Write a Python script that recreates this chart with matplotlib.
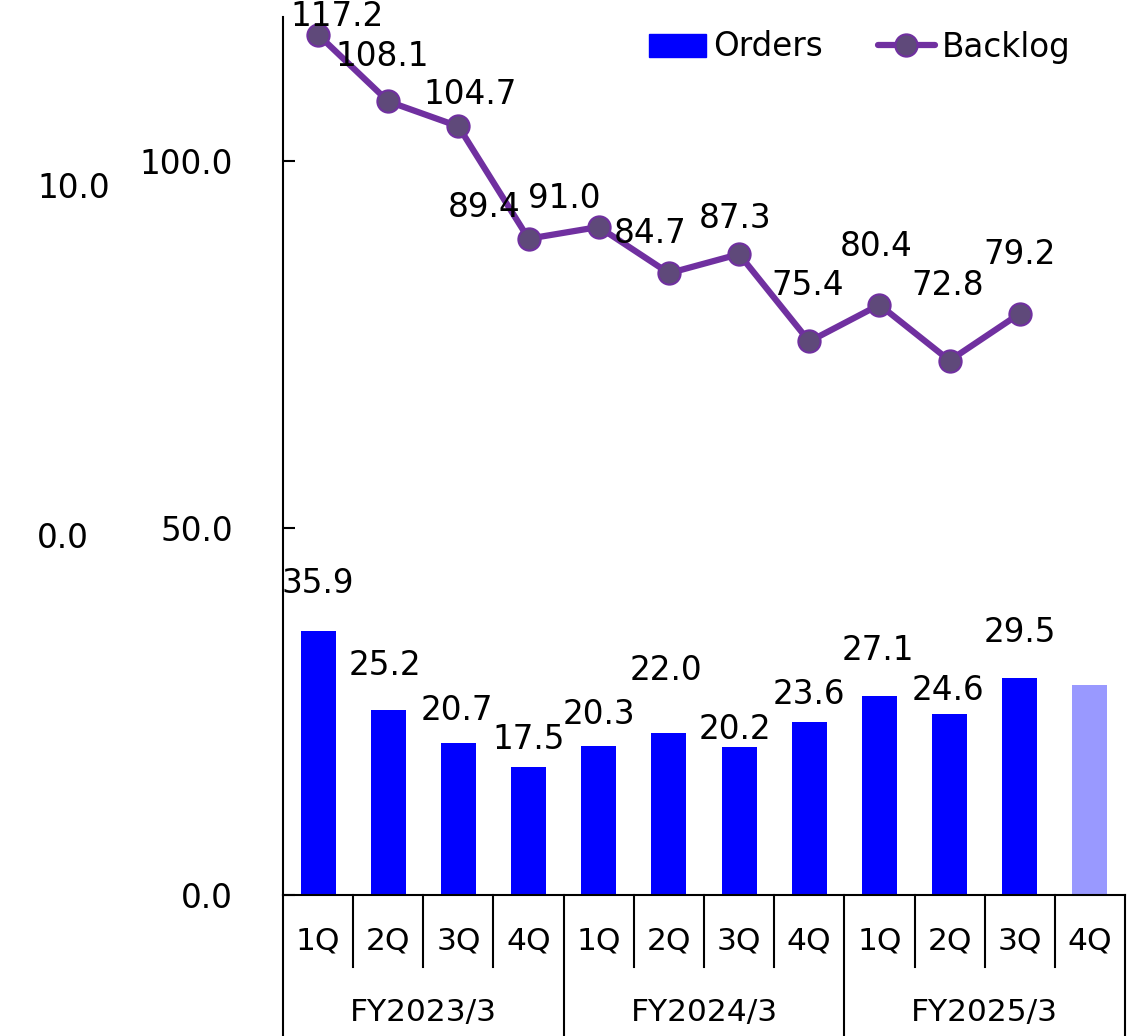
import numpy as np
import matplotlib
matplotlib.use('Agg')
import matplotlib.pyplot as plt
from matplotlib.transforms import blended_transform_factory
from matplotlib.lines import Line2D
from matplotlib.patches import Patch

# Data
quarters = ['1Q', '2Q', '3Q', '4Q'] * 3
fiscal_years = ['FY2023/3', 'FY2024/3', 'FY2025/3']
orders = [35.9, 25.2, 20.7, 17.5, 20.3, 22.0, 20.2, 23.6, 27.1, 24.6, 29.5, 28.6]
order_labels = ['35.9', '25.2', '20.7', '17.5', '20.3', '22.0', '20.2', '23.6', '27.1', '24.6', '29.5', '']
backlog = [117.2, 108.1, 104.7, 89.4, 91.0, 84.7, 87.3, 75.4, 80.4, 72.8, 79.2]

# label offsets in pixels (dx, dy)
order_offsets = [(0, 48), (-3, 45), (-2, 33), (0, 27), (0, 31), (-3, 63),
                 (-4, 17), (0, 27), (-2, 46), (-2, 24), (0, 46)]
backlog_offsets = [(19, 18), (-6, 45), (12, 32), (-44, 31), (-34, 28), (-19, 40),
                   (-4, 36), (-2, 56), (-3, 58), (-2, 75), (0, 59)]

W, H = 1135, 1036
fig = plt.figure(figsize=(W / 100, H / 100), dpi=100)
ax = fig.add_axes([283 / W, (H - 895) / H, (1125 - 283) / W, (895 - 17) / H])

x = np.arange(len(orders))
colors = ['#0000FF'] * (len(orders) - 1) + ['#9999FF']
ax.bar(x, orders, width=0.5, color=colors)
ax.plot(x[:len(backlog)], backlog, color='#7030A0', lw=4.5, marker='o', ms=16,
        mfc='#5F497A', mec='#7030A0', mew=1.5, solid_capstyle='round')

fs = 23.5
for i, (v, lab) in enumerate(zip(orders, order_labels)):
    if lab:
        ax.annotate(lab, (i, v), xytext=order_offsets[i], textcoords='offset pixels',
                    ha='center', va='center', fontsize=fs)
for i, v in enumerate(backlog):
    ax.annotate(f'{v:.1f}', (i, v), xytext=backlog_offsets[i], textcoords='offset pixels',
                ha='center', va='center', fontsize=fs)

ax.set_xlim(-0.5, len(orders) - 0.5)
ax.set_ylim(0, 119.6)
ax.set_yticks([0, 50, 100])
ax.set_yticklabels([f'{t:.1f}' for t in [0, 50, 100]], fontsize=fs)
ax.tick_params(axis='y', direction='in', length=8.5, width=1.5, pad=36)
ax.set_xticks([])
for s in ['top', 'right']:
    ax.spines[s].set_visible(False)
for s in ['left', 'bottom']:
    ax.spines[s].set_linewidth(1.5)

# stray secondary-axis labels on the far left
fig.text(110 / W, 1 - 188 / H, '10.0', ha='right', va='center', fontsize=fs)
fig.text(89 / W, 1 - 538 / H, '0.0', ha='right', va='center', fontsize=fs)

# two-level category axis drawn as a table
tr = blended_transform_factory(ax.transData, fig.transFigure)
y_axis = (H - 895) / H
y_mid = (H - 967) / H
for b in np.arange(len(orders) + 1) - 0.5:
    edge = (b + 0.5) % 4 == 0
    ax.plot([b, b], [y_axis, 0 if edge else y_mid], color='black', lw=1.5,
            transform=tr, clip_on=False)
for i, q in enumerate(quarters):
    ax.text(i, (H - 941) / H, q, transform=tr, ha='center', va='center', fontsize=22.5)
for j, fy in enumerate(fiscal_years):
    ax.text(4 * j + 1.5, (H - 1012) / H, fy, transform=tr, ha='center', va='center', fontsize=22.5)

handles = [Patch(color='#0000FF', label='Orders'),
           Line2D([], [], color='#7030A0', lw=4.5, marker='o', ms=16, mfc='#5F497A',
                  mec='#7030A0', mew=1.5, solid_capstyle='round', label='Backlog')]
fig.legend(handles=handles, loc='center left', bbox_to_anchor=(649 / W, 1 - 47 / H),
           ncol=2, frameon=False, fontsize=fs, handlelength=1.75, handletextpad=0.2,
           columnspacing=1.7, borderpad=0, borderaxespad=0)

fig.savefig('out.png', dpi=100)
